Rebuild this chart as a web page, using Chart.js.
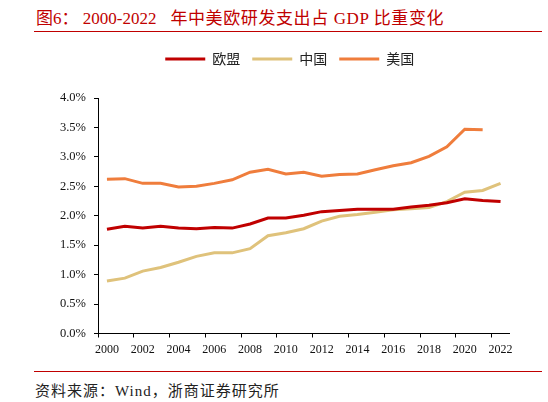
<!DOCTYPE html>
<html>
<head>
<meta charset="utf-8">
<script src="https://cdn.jsdelivr.net/npm/chart.js@4.4.0/dist/chart.umd.min.js"></script>
<style>
  html, body { margin: 0; padding: 0; background: #fff; }
  #page { position: relative; width: 548px; height: 402px; overflow: hidden; }
  #title { position: absolute; left: 36px; top: 4px; font: 17px "Liberation Serif", "Noto Sans CJK SC", serif; color: #c00000; white-space: nowrap; }
  #title .rest { margin-left: 14px; letter-spacing: 0.6px; }
  .rule { position: absolute; left: 34px; width: 508px; height: 1px; background: #c00000; }
  #source { position: absolute; left: 35px; top: 379px; font: 15px "Liberation Serif", "Noto Sans CJK SC", serif; letter-spacing: 1px; color: #222; white-space: nowrap; }
  #wrap { position: absolute; left: 0; top: 40px; width: 548px; height: 325px; }
</style>
</head>
<body>
<div id="page">
  <div id="title">图6：&nbsp;2000-2022<span class="rest">年中美欧研发支出占 GDP 比重变化</span></div>
  <div class="rule" style="top:31px"></div>
  <div id="wrap"><canvas id="rdChart"></canvas></div>
  <div class="rule" style="top:371px"></div>
  <div id="source">资料来源：Wind，浙商证券研究所</div>
</div>
<script>
const years = ['2000', '2001', '2002', '2003', '2004', '2005', '2006', '2007', '2008', '2009', '2010', '2011',
    '2012', '2013', '2014', '2015', '2016', '2017', '2018', '2019', '2020', '2021', '2022'];

// 研发支出占 GDP 比重 (%)
const euValues = [1.77, 1.82, 1.79, 1.82, 1.79, 1.78, 1.80, 1.79, 1.86, 1.96, 1.96, 2.01,
    2.07, 2.09, 2.11, 2.11, 2.11, 2.15, 2.18, 2.22, 2.29, 2.26, 2.24];
const cnValues = [0.89, 0.94, 1.06, 1.12, 1.21, 1.31, 1.37, 1.37, 1.44, 1.66, 1.71, 1.78,
    1.91, 1.99, 2.02, 2.06, 2.10, 2.12, 2.14, 2.24, 2.40, 2.43, 2.55];
const usValues = [2.62, 2.63, 2.55, 2.55, 2.49, 2.50, 2.55, 2.61, 2.74, 2.79, 2.71, 2.74,
    2.67, 2.70, 2.71, 2.78, 2.85, 2.90, 3.01, 3.17, 3.47, 3.46, null];

const yTicks = [0, 0.5, 1, 1.5, 2, 2.5, 3, 3.5, 4];

const serif = '"Liberation Serif", "Times New Roman", serif';

// 图例下方留出空间，并把图例整体右移一点
const legendSpace = {
    id: 'legendSpace',
    beforeInit(chart) {
        const fit = chart.legend.fit;
        chart.legend.fit = function () {
            fit.bind(chart.legend)();
            this.height = 58;
        };
    },
    afterLayout(chart) {
        chart.legend.left += 35;
        chart.legend.right += 35;
    }
};

function makeDataset(label, data, color) {
    return {
        label: label,
        data: data,
        borderColor: color,
        backgroundColor: color,
        borderWidth: 3,
        pointRadius: 0,
        tension: 0,
        spanGaps: false
    };
}

const ctx = document.getElementById('rdChart');
new Chart(ctx.getContext('2d'), {
    type: 'line',
    data: {
        labels: years,
        datasets: [
            makeDataset('欧盟', euValues, '#c00000'),
            makeDataset('中国', cnValues, '#dfc27b'),
            makeDataset('美国', usValues, '#ef7d3c')
        ]
    },
    options: {
        responsive: true,
        maintainAspectRatio: false,
        animation: false,
        layout: {
            padding: { top: 0, left: 0, right: 38.5, bottom: 0 }
        },
        plugins: {
            legend: {
                position: 'top',
                labels: {
                    boxWidth: 40,
                    boxHeight: 3,
                    padding: 12,
                    color: '#222',
                    font: { family: '"Noto Sans CJK SC", sans-serif', size: 14 },
                    generateLabels(chart) {
                        return Chart.defaults.plugins.legend.labels.generateLabels(chart)
                            .map(item => ({ ...item, lineWidth: 0 }));
                    }
                }
            },
            tooltip: { enabled: false }
        },
        scales: {
            x: {
                type: 'category',
                offset: true,
                afterFit(scale) { scale.height = 31.5; },
                grid: {
                    offset: true,
                    drawOnChartArea: false,
                    tickLength: 4,
                    color: c => (c.index % 2 === 0 ? '#000' : 'rgba(0,0,0,0)')
                },
                border: { display: true, color: '#000', width: 1 },
                ticks: {
                    autoSkip: false,
                    maxRotation: 0,
                    padding: 5,
                    color: '#111',
                    font: { family: serif, size: 12 },
                    callback: function (value, index) {
                        return index % 2 === 0 ? this.getLabelForValue(value) : '';
                    }
                }
            },
            y: {
                min: 0,
                max: 4,
                afterFit(scale) { scale.width = 98; },
                afterBuildTicks(scale) {
                    scale.ticks = yTicks.map(v => ({ value: v }));
                },
                grid: {
                    drawOnChartArea: false,
                    tickLength: 4,
                    color: '#000'
                },
                border: { display: true, color: '#000', width: 1 },
                ticks: {
                    padding: 8,
                    color: '#111',
                    font: { family: serif, size: 12.5 },
                    callback: value => value.toFixed(1) + '%'
                }
            }
        }
    },
    plugins: [legendSpace]
});
</script>
</body>
</html>
